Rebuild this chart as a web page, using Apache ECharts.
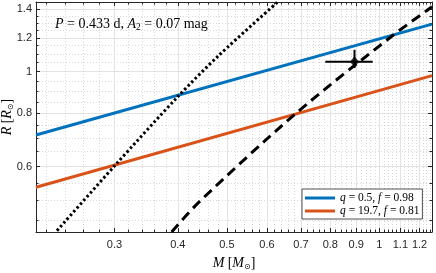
<!DOCTYPE html>
<html><head><meta charset="utf-8">
<script src="https://cdn.jsdelivr.net/npm/echarts@6/dist/echarts.min.js"></script>
<style>html,body{margin:0;padding:0;background:#fff}#c{width:436px;height:273px}</style>
</head><body><div id="c"></div>
<script>
// ---- data (raw units; both axes are logarithmic) ----
const xMajor = [0.3, 0.4, 0.5, 0.6, 0.7, 0.8, 0.9, 1, 1.1, 1.2];
const xMinor = [0.22,0.24,0.26,0.28,0.32,0.34,0.36,0.38,0.42,0.44,0.46,0.48,0.52,0.54,0.56,0.58,0.62,0.64,0.66,0.68,0.72,0.74,0.76,0.78,0.82,0.84,0.86,0.88,0.92,0.94,0.96,0.98,1.02,1.04,1.06,1.08,1.12,1.14,1.16,1.18,1.22,1.24,1.26];
const yMajor = [0.6, 0.8, 1, 1.2, 1.4];
const yMinor = [0.45,0.5,0.55,0.65,0.7,0.75,0.85,0.9,0.95,1.05,1.1,1.15,1.25,1.3,1.35];
const xRange = [0.21, 1.27];
const yRange = [0.422, 1.455];

const legendNames = ['q = 0.5, f = 0.98', 'q = 19.7, f = 0.81'];
const blueM = [0.21, 1.27];
const blueR = [0.711, 1.292];
const orangeM = [0.21, 1.27];
const orangeR = [0.537, 0.979];
const dottedM = [0.231, 0.3, 0.4, 0.483, 0.63];
const dottedR = [0.425, 0.602, 0.874, 1.094, 1.455];
const dashedM = [0.389, 0.4414, 0.685, 1.0546, 1.245, 1.27];
const dashedR = [0.422, 0.497, 0.800, 1.207, 1.394, 1.418];
// observed point: M, R and error limits
const pointM = [0.893], pointR = [1.055];
const pointMlo = [0.782], pointMhi = [0.970];
const pointRlo = [1.02], pointRhi = [1.125];

// ---- log mapping onto a 0..1000 value axis ----
const L = Math.log10;
const mk = r => ({
  f: v => (L(v) - L(r[0])) / (L(r[1]) - L(r[0])) * 1000,
  inv: u => Math.pow(10, L(r[0]) + u / 1000 * (L(r[1]) - L(r[0])))
});
const X = mk(xRange), Y = mk(yRange);
const pts = (a, b) => a.map((v, i) => [X.f(v), Y.f(b[i])]);
const fmtX = u => String(+X.inv(u).toFixed(2));
const fmtY = u => String(+Y.inv(u).toFixed(2));

const axCol = '#262626';
const lab = {fontFamily: 'Liberation Sans, Arial', fontSize: 11, color: axCol};
const rich = {
  i: {fontFamily: 'Liberation Serif', fontStyle: 'italic', fontSize: 14, color: '#000', lineHeight: 16},
  n: {fontFamily: 'Liberation Serif', fontSize: 14, color: '#000', lineHeight: 16},
  s: {fontFamily: 'DejaVu Sans', fontSize: 8, color: '#000', lineHeight: 9, verticalAlign: 'bottom'}
};
function ax(extra) {
  return Object.assign({type: 'value', min: 0, max: 1000, gridIndex: 0,
    axisLine: {show: false, onZero: false}, axisLabel: {show: false}, splitLine: {show: false},
    axisTick: {show: false}}, extra);
}
const line = {color: axCol, width: 1};
const axLine = {show: true, onZero: false, lineStyle: line};
const majorSplit = {show: true, lineStyle: {color: '#e3e3e3', width: 1}};
const minorSplit = {show: true, lineStyle: {color: '#cfcfcf', width: 0.8, type: [1, 2]}};
const tk = (vals, len) => ({show: true, inside: true, length: len, customValues: vals, lineStyle: line});
const option = {
  animation: false,
  grid: {left: 36, right: 4, top: 2, bottom: 41, containLabel: false, outerBoundsMode: 'none'},
  xAxis: [
    ax({position: 'bottom', axisLine: axLine, axisTick: tk(xMajor.map(X.f), 4),
      axisLabel: Object.assign({show: true, customValues: xMajor.map(X.f), formatter: fmtX, margin: 7}, lab),
      splitLine: majorSplit,
      name: '{i|M} {n|[}{i|M}{s|⊙}{n|]}', nameLocation: 'middle', nameGap: 23, nameMoveOverlap: false,
      nameTextStyle: {rich: rich}}),
    ax({position: 'bottom', axisTick: tk(xMinor.map(X.f), 2.5), splitLine: minorSplit}),
    ax({position: 'top', axisLine: axLine, axisTick: tk(xMajor.map(X.f), 4)}),
    ax({position: 'top', axisTick: tk(xMinor.map(X.f), 2.5)})
  ],
  yAxis: [
    ax({position: 'left', axisLine: axLine, axisTick: tk(yMajor.map(Y.f), 4),
      axisLabel: Object.assign({show: true, customValues: yMajor.map(Y.f), formatter: fmtY, margin: 4}, lab),
      splitLine: majorSplit,
      name: '{i|R} {n|[}{i|R}{s|⊙}{n|]}', nameLocation: 'middle', nameGap: 21, nameMoveOverlap: false,
      nameTextStyle: {rich: rich}}),
    ax({position: 'left', axisTick: tk(yMinor.map(Y.f), 2.5), splitLine: minorSplit}),
    ax({position: 'right', axisLine: axLine, axisTick: tk(yMajor.map(Y.f), 4)}),
    ax({position: 'right', axisTick: tk(yMinor.map(Y.f), 2.5)})
  ],
  legend: {
    data: legendNames, orient: 'vertical', left: 302, top: 189,
    icon: 'rect', itemWidth: 30, itemHeight: 3, itemGap: 1,
    padding: [3, 3, 2, 3], backgroundColor: '#fff', borderColor: axCol, borderWidth: 0.8,
    textStyle: {fontFamily: 'Liberation Serif', fontSize: 11.5, color: '#000', rich: {
      i: {fontFamily: 'Liberation Serif', fontStyle: 'italic', fontSize: 11.5, color: '#000'}}},
    formatter: n => n.replace(/([qf]) =/g, '{i|$1} ='),
    selectedMode: false
  },
  graphic: [{
    type: 'text', x: 55, y: 16, z: 10,
    style: {text: '{i|P} = 0.433 d, {i|A}{s|2} = 0.07 mag', fontFamily: 'Liberation Serif', fontSize: 14, fill: '#000',
      lineHeight: 16,
      rich: {i: {fontFamily: 'Liberation Serif', fontStyle: 'italic', fontSize: 14, lineHeight: 16},
             s: {fontFamily: 'Liberation Serif', fontSize: 9.5, lineHeight: 10, verticalAlign: 'bottom'}}}
  }],
  series: [
    {type: 'line', name: legendNames[0], data: pts(blueM, blueR), symbol: 'none', z: 3,
      lineStyle: {color: '#0072BD', width: 3}, itemStyle: {color: '#0072BD'}},
    {type: 'line', name: legendNames[1], data: pts(orangeM, orangeR), symbol: 'none', z: 3,
      lineStyle: {color: '#D95319', width: 3}, itemStyle: {color: '#D95319'}},
    {type: 'line', name: 'dotted', data: pts(dottedM, dottedR), symbol: 'none', smooth: 0.3, z: 4,
      lineStyle: {color: '#000', width: 3, type: [2.5, 2.5]}},
    {type: 'line', name: 'dashed', data: pts(dashedM, dashedR), symbol: 'none', smooth: 0.3, z: 4,
      lineStyle: {color: '#000', width: 3, type: [10, 6]}},
    {type: 'custom', name: 'err', z: 5,
      data: pointM.map((m, i) => [X.f(m), Y.f(pointR[i]), X.f(pointMlo[i]), X.f(pointMhi[i]), Y.f(pointRlo[i]), Y.f(pointRhi[i])]),
      encode: {x: 0, y: 1},
      renderItem: (params, api) => {
        const l = api.coord([api.value(2), api.value(1)]);
        const r = api.coord([api.value(3), api.value(1)]);
        const b = api.coord([api.value(0), api.value(4)]);
        const t = api.coord([api.value(0), api.value(5)]);
        const st = {stroke: '#000', lineWidth: 2};
        return {type: 'group', children: [
          {type: 'line', shape: {x1: l[0], y1: l[1], x2: r[0], y2: r[1]}, style: st},
          {type: 'line', shape: {x1: b[0], y1: b[1], x2: t[0], y2: t[1]}, style: st}
        ]};
      }},
    {type: 'scatter', name: 'pt', data: pts(pointM, pointR), symbol: 'diamond', symbolSize: [9, 11], z: 6,
      itemStyle: {color: '#000'}}
  ]
};
const chart = echarts.init(document.getElementById('c'), null, {renderer: 'canvas'});
chart.setOption(option);
</script>
</body></html>
